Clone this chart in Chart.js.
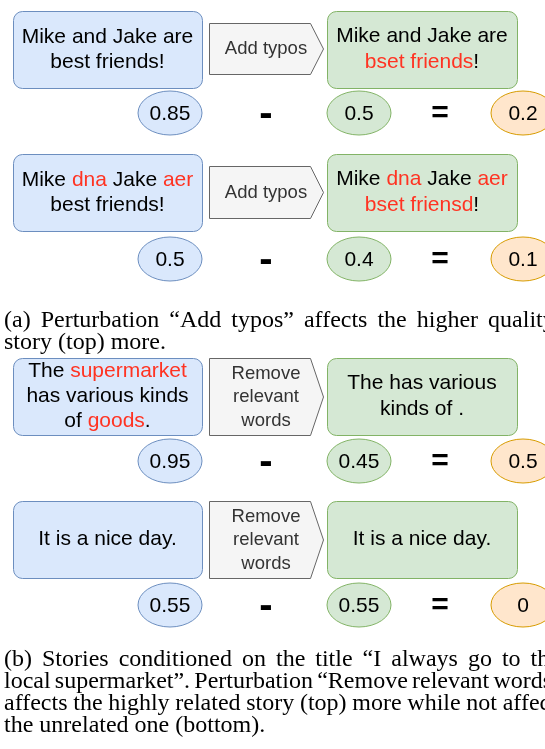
<!DOCTYPE html>
<html>
<head>
<meta charset="utf-8">
<script src="https://cdn.jsdelivr.net/npm/chart.js@4.4.1/dist/chart.umd.min.js"></script>
<style>
html,body{margin:0;padding:0;background:#fff;overflow:hidden;}
canvas{display:block;}
</style>
</head>
<body>
<canvas id="c" width="545" height="749" style="width:545px;height:749px"></canvas>
<script>
// ---------- DATA ----------
const rowNames = ['a-top', 'a-bottom', 'b-top', 'b-bottom'];
// *word* marks red (changed/relevant) words
const originalStories = [
  ['Mike and Jake are', 'best friends!'],
  ['Mike *dna* Jake *aer*', 'best friends!'],
  ['The *supermarket*', 'has various kinds', 'of *goods*.'],
  ['It is a nice day.']
];
const perturbations = [
  ['Add typos'],
  ['Add typos'],
  ['Remove', 'relevant', 'words'],
  ['Remove', 'relevant', 'words']
];
const perturbedStories = [
  ['Mike and Jake are', '*bset friends*!'],
  ['Mike *dna* Jake *aer*', '*bset friensd*!'],
  ['The has various', 'kinds of .'],
  ['It is a nice day.']
];
const originalScores = [0.85, 0.5, 0.95, 0.55];
const perturbedScores = [0.5, 0.4, 0.45, 0.55];
const scoreDrops = [0.2, 0.1, 0.5, 0];
const operators = ['-', '='];
const captionA = [
  '(a) Perturbation \u201cAdd typos\u201d affects the higher quality',
  'story (top) more.'
];
const captionB = [
  '(b) Stories conditioned on the title \u201cI always go to the',
  'local supermarket\u201d. Perturbation \u201cRemove relevant words\u201d',
  'affects the highly related story (top) more while not affecting',
  'the unrelated one (bottom).'
];

// ---------- LAYOUT (diagram units = px in scale space) ----------
const L = {
  boxTop: [11, 154, 358, 501],
  boxH: 77,
  arrowTop: [23, 166, 358, 501],
  arrowH: [51, 52, 77, 77],
  blueX: [13, 202], arrowX: [209, 310, 323], greenX: [327, 517],
  ellY: [113, 259, 461, 605],
  ellX: [170, 359, 523], rx: 32, ry: 22,
  opX: [266, 440],
  capA: {x: 4, y: [327, 349], gap: [10.0, 6.0]},
  capB: {x: 4, y: [666, 688, 710, 732], gap: [10.0, 4.2, 5.7, 6.0]}
};

const C = {
  blueFill: '#dae8fc', blueLine: '#6c8ebf',
  greenFill: '#d5e8d4', greenLine: '#82b366',
  orangeFill: '#ffe6cc', orangeLine: '#d79b00',
  arrowFill: '#f5f5f5', arrowLine: '#666666',
  red: '#ff3322', text: '#000000', arrowText: '#333333'
};
const SANS = '"Liberation Sans", Arial, sans-serif';
const SERIF = '"Liberation Serif", "Times New Roman", serif';

function rrect(ctx, x, y, w, h, r) {
  ctx.beginPath();
  ctx.moveTo(x + r, y);
  ctx.lineTo(x + w - r, y);
  ctx.arcTo(x + w, y, x + w, y + r, r);
  ctx.lineTo(x + w, y + h - r);
  ctx.arcTo(x + w, y + h, x + w - r, y + h, r);
  ctx.lineTo(x + r, y + h);
  ctx.arcTo(x, y + h, x, y + h - r, r);
  ctx.lineTo(x, y + r);
  ctx.arcTo(x, y, x + r, y, r);
  ctx.closePath();
}
function richLine(ctx, line, cx, y, base) {
  const parts = line.split('*');
  let w = 0;
  parts.forEach(p => w += ctx.measureText(p).width);
  let x = cx - w / 2;
  ctx.textAlign = 'left';
  parts.forEach((p, i) => {
    ctx.fillStyle = i % 2 ? C.red : base;
    ctx.fillText(p, x, y);
    x += ctx.measureText(p).width;
  });
}
function lines(ctx, arr, cx, cy, lh, base) {
  const n = arr.length;
  arr.forEach((ln, i) => richLine(ctx, ln, cx, cy + (i - (n - 1) / 2) * lh, base));
}
function justified(ctx, text, x, y, gap) {
  ctx.textAlign = 'left';
  text.split(' ').forEach(w => {
    ctx.fillText(w, x, y);
    x += ctx.measureText(w).width + gap;
  });
}

const diagramPlugin = {
  id: 'diagram',
  afterDatasetsDraw(chart) {
    const ctx = chart.ctx;
    const sx = chart.scales.x, sy = chart.scales.y;
    const X = v => sx.getPixelForValue(v), Y = v => sy.getPixelForValue(v);
    ctx.save();
    ctx.lineWidth = 1;
    ctx.textBaseline = 'middle';
    rowNames.forEach((_, r) => {
      const top = Y(L.boxTop[r]), bot = Y(L.boxTop[r] + L.boxH);
      // original story box
      rrect(ctx, X(L.blueX[0]) + .5, top + .5, X(L.blueX[1]) - X(L.blueX[0]), bot - top, 9);
      ctx.fillStyle = C.blueFill; ctx.fill();
      ctx.strokeStyle = C.blueLine; ctx.stroke();
      // perturbed story box
      rrect(ctx, X(L.greenX[0]) + .5, top + .5, X(L.greenX[1]) - X(L.greenX[0]), bot - top, 9);
      ctx.fillStyle = C.greenFill; ctx.fill();
      ctx.strokeStyle = C.greenLine; ctx.stroke();
      // arrow
      const at = Y(L.arrowTop[r]) + .5, ab = Y(L.arrowTop[r] + L.arrowH[r]) + .5;
      ctx.beginPath();
      ctx.moveTo(X(L.arrowX[0]) + .5, at);
      ctx.lineTo(X(L.arrowX[1]) + .5, at);
      ctx.lineTo(X(L.arrowX[2]) + .5, (at + ab) / 2);
      ctx.lineTo(X(L.arrowX[1]) + .5, ab);
      ctx.lineTo(X(L.arrowX[0]) + .5, ab);
      ctx.closePath();
      ctx.fillStyle = C.arrowFill; ctx.fill();
      ctx.strokeStyle = C.arrowLine; ctx.stroke();
      const cy = (top + bot) / 2;
      ctx.font = '21px ' + SANS;
      lines(ctx, originalStories[r], (X(L.blueX[0]) + X(L.blueX[1])) / 2, cy, 25, C.text);
      lines(ctx, perturbedStories[r], (X(L.greenX[0]) + X(L.greenX[1])) / 2, cy, 26, C.text);
      ctx.font = '18.5px ' + SANS;
      lines(ctx, perturbations[r], (X(L.arrowX[0]) + X(L.arrowX[2])) / 2, (at + ab) / 2, 23.5, C.arrowText);
      // operators
      ctx.fillStyle = '#000';
      ctx.textAlign = 'center';
      ctx.font = 'bold 40px ' + SANS;
      ctx.fillText(operators[0], X(L.opX[0]), Y(L.ellY[r]) + 2);
      ctx.font = 'bold 30px ' + SANS;
      ctx.fillText(operators[1], X(L.opX[1]), Y(L.ellY[r]) + 1);
    });
    // score ellipses from dataset elements
    const styles = [[C.blueFill, C.blueLine], [C.greenFill, C.greenLine], [C.orangeFill, C.orangeLine]];
    chart.data.datasets.forEach((ds, d) => {
      const meta = chart.getDatasetMeta(d);
      meta.data.forEach((el, i) => {
        const rx = X(L.ellX[d] + L.rx) - X(L.ellX[d]);
        const ry = Y(L.ry) - Y(0);
        ctx.beginPath();
        ctx.ellipse(el.x, el.y, rx, ry, 0, 0, Math.PI * 2);
        ctx.fillStyle = styles[d][0]; ctx.fill();
        ctx.strokeStyle = styles[d][1]; ctx.stroke();
        ctx.fillStyle = C.text;
        ctx.textAlign = 'center';
        ctx.font = '21px ' + SANS;
        ctx.fillText(String(ds.values[i]), el.x, el.y + 1);
      });
    });
    // captions
    ctx.fillStyle = '#000';
    ctx.textBaseline = 'alphabetic';
    ctx.font = '24px ' + SERIF;
    captionA.forEach((t, i) => justified(ctx, t, X(L.capA.x), Y(L.capA.y[i]), L.capA.gap[i]));
    captionB.forEach((t, i) => justified(ctx, t, X(L.capB.x), Y(L.capB.y[i]), L.capB.gap[i]));
    ctx.restore();
  }
};

function pts(values, col) {
  return values.map((v, i) => ({x: L.ellX[col], y: L.ellY[i]}));
}

new Chart(document.getElementById('c'), {
  type: 'scatter',
  data: {
    datasets: [
      {label: 'Original story score', values: originalScores, data: pts(originalScores, 0), pointRadius: 0},
      {label: 'Perturbed story score', values: perturbedScores, data: pts(perturbedScores, 1), pointRadius: 0},
      {label: 'Score drop', values: scoreDrops, data: pts(scoreDrops, 2), pointRadius: 0}
    ]
  },
  options: {
    responsive: false,
    devicePixelRatio: 1,
    animation: false,
    layout: {padding: 0},
    plugins: {legend: {display: false}, tooltip: {enabled: false}},
    scales: {
      x: {type: 'linear', min: 0, max: 545, display: false},
      y: {type: 'linear', min: 0, max: 749, reverse: true, display: false}
    }
  },
  plugins: [diagramPlugin]
});
</script>
</body>
</html>
